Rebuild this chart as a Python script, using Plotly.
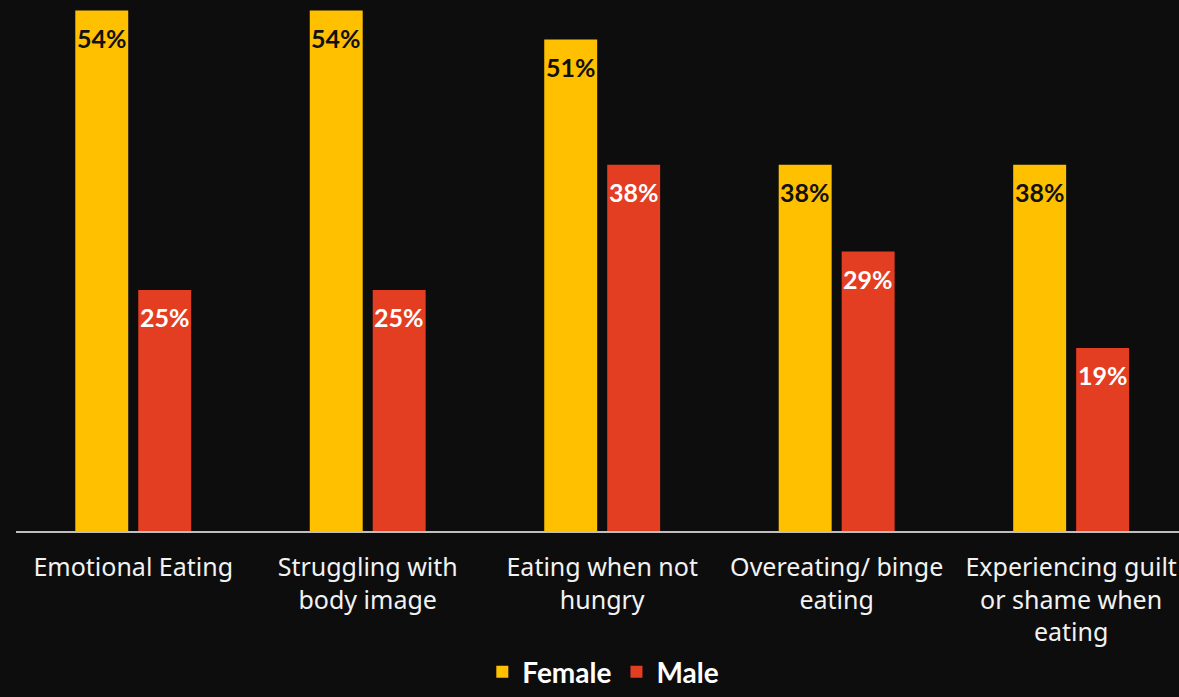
import plotly.graph_objects as go

categories = [
    "Emotional Eating",
    "Struggling with<br>body image",
    "Eating when not<br>hungry",
    "Overeating/ binge<br>eating",
    "Experiencing guilt<br>or shame when<br>eating",
]
female = [54, 54, 51, 38, 38]
male = [25, 25, 38, 29, 19]

BG = "#0d0d0d"
YELLOW = "#FFC000"
RED = "#E33D22"
LABEL_FONT = "Lato"
TICK_FONT = "Noto Sans"

W, H = 1179, 697
PLOT_BOTTOM = 531  # pixel row of the baseline

fig = go.Figure()
fig.add_trace(go.Bar(name="Female", x=categories, y=female, marker=dict(color=YELLOW, line_width=0)))
fig.add_trace(go.Bar(name="Male", x=categories, y=male, marker=dict(color=RED, line_width=0)))

# value labels sitting just inside the top of each bar
for series, shift, color in ((female, -31.5, "#111111"), (male, 31.5, "#ffffff")):
    for cat, v in zip(categories, series):
        fig.add_annotation(
            x=cat, y=v, text=f"<b>{v}%</b>", showarrow=False,
            xshift=shift, yshift=-27, yanchor="middle",
            font=dict(family=LABEL_FONT, size=25, color=color),
        )

fig.update_layout(
    width=W, height=H,
    paper_bgcolor=BG, plot_bgcolor=BG,
    margin=dict(l=16, r=0, t=0, b=0),
    barmode="group", bargap=0.463, bargroupgap=0.159,
    showlegend=True,
    legend=dict(
        orientation="h", x=0.505, xanchor="center",
        y=0, yanchor="bottom",
        font=dict(family=LABEL_FONT, size=28, color="#ffffff", weight="bold"),
        itemsizing="constant", bgcolor="rgba(0,0,0,0)",
        itemwidth=30, tracegroupgap=0,
    ),
    xaxis=dict(
        type="category", range=[-0.5, 4.46],
        showline=True, linecolor="#bfbfbf", linewidth=2,
        showgrid=False, ticks="", ticklabelstandoff=13,
        tickfont=dict(family=TICK_FONT, size=25, color="#f2f2f2"),
    ),
    yaxis=dict(
        domain=[(H - PLOT_BOTTOM) / H, 1], range=[0, 55.1],
        visible=False, showgrid=False, zeroline=False,
    ),
)

fig.write_html("out.html")
